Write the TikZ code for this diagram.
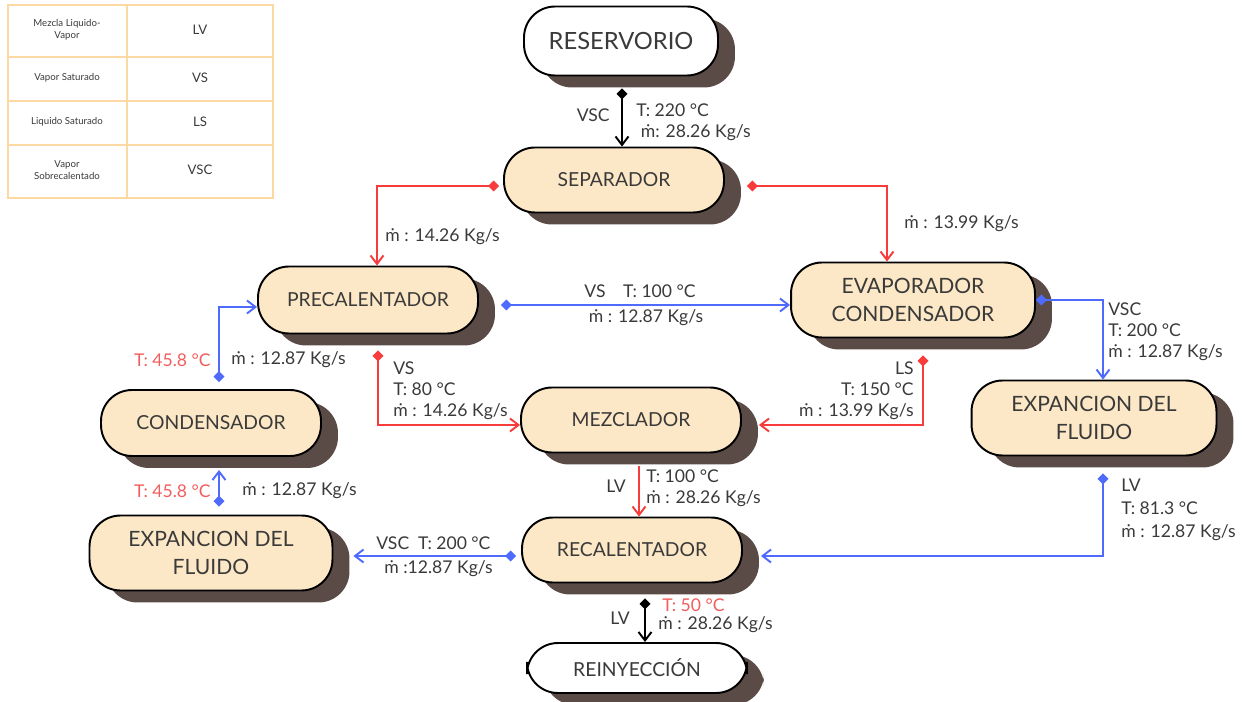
\documentclass[tikz,border=0pt]{standalone}
\usepackage{fontspec}
\setmainfont{Lato}
\usetikzlibrary{arrows.meta,calc,positioning,shadows}
\definecolor{peach}{HTML}{FCE8C6}
\definecolor{shadowbrown}{HTML}{5B4B47}
\definecolor{txtgray}{HTML}{3A3A3A}
\definecolor{flowred}{HTML}{F83B3B}
\definecolor{flowblue}{HTML}{4F6BFD}
\definecolor{redtxt}{HTML}{F25E5E}
\definecolor{tabline}{HTML}{FCD8A2}
\tikzset{box/.style={draw=black,line width=1.1pt,fill=peach,rounded corners=0.62cm,
    minimum width=4.4cm,minimum height=1.3cm,align=center,inner sep=2pt,text=txtgray,
    font=\fontsize{11}{15}\selectfont,
    drop shadow={shadow xshift=0.34cm,shadow yshift=-0.24cm,fill=shadowbrown,opacity=1}},
  bigbox/.style={box,minimum width=4.88cm,minimum height=1.5cm,font=\fontsize{12}{16}\selectfont},
  endbox/.style={box,fill=white},
  lbl/.style={font=\fontsize{10}{12}\selectfont,text=txtgray,inner sep=0pt,align=left},
  hot/.style={lbl,text=redtxt},
  tabtxt/.style={font=\fontsize{5.5}{7}\selectfont,text=txtgray,align=center},
  flow/.style={line width=1.1pt,arrows={Diamond[length=2.2mm,width=2.2mm]-Straight Barb[length=1.7mm,width=2.6mm]}},
  flowr/.style={flow,draw=flowred},
  flowb/.style={flow,draw=flowblue},
  flowk/.style={flow,draw=black}}
\begin{document}
\begin{tikzpicture}[x=0.02cm,y=-0.02cm]
\useasboundingbox (0,0) rectangle (1244,702);
% tabla de estados
\draw[tabline,line width=1.7pt] (8,5) rectangle (273,198);
\draw[tabline,line width=1.7pt] (127,5) -- (127,198) (8,57) -- (273,57) (8,101) -- (273,101) (8,145) -- (273,145);
\node[tabtxt] (t1) at (67,30) {Mezcla Liquido-\\Vapor};
\node[tabtxt] (t2) at (67,78) {Vapor Saturado};
\node[tabtxt] (t3) at (67,122) {Liquido Saturado};
\node[tabtxt] (t4) at (67,170) {Vapor\\Sobrecalentado};
\node[tabtxt,font=\fontsize{7.5}{9}\selectfont] (s1) at (200,30) {LV};
\node[tabtxt,font=\fontsize{7.5}{9}\selectfont] (s2) at (200,78) {VS};
\node[tabtxt,font=\fontsize{7.5}{9}\selectfont] (s3) at (200,122) {LS};
\node[tabtxt,font=\fontsize{7.5}{9}\selectfont] (s4) at (200,170) {VSC};
% equipos
\node[endbox,minimum width=3.88cm,minimum height=1.38cm,font=\fontsize{13.5}{17}\selectfont] (res) at (621,41) {RESERVORIO};
\node[box] (sep) at (614,180) {SEPARADOR};
\node[box,minimum height=1.34cm] (prec) at (368,300) {PRECALENTADOR};
\node[bigbox] (evap) at (913,300) {EVAPORADOR\\CONDENSADOR};
\node[box,minimum height=1.32cm] (cond) at (211,423) {CONDENSADOR};
\node[box] (mez) at (631,420) {MEZCLADOR};
\node[bigbox,minimum width=4.9cm] (expr) at (1094,418) {EXPANCION DEL\\FLUIDO};
\node[bigbox,minimum width=4.86cm] (expl) at (211,553) {EXPANCION DEL\\FLUIDO};
\node[box] (rec) at (632,550) {RECALENTADOR};
\node[endbox,minimum height=1.0cm] (rein) at (637,668) {REINYECCIÓN};
% conexiones
\draw[flowk] ($(res.south)+(1,12)$) -- ($(res.south |- sep.north)+(1,0)$);
\draw[flowr] ($(sep.west)+(-4,6)$) -| ($(prec.north)+(9,0)$);
\draw[flowr] ($(sep.east)+(22,6)$) -| ($(evap.north)+(-26,0)$);
\draw[flowb] ($(prec.east)+(22,5)$) -- ($(evap.west)+(0,5)$);
\draw[flowb] ($(cond.north)+(8,-7)$) |- ($(prec.west)+(0,7)$);
\draw[flowr] ($(prec.south)+(10,16)$) |- ($(mez.west)+(0,5)$);
\draw[flowr] ($(evap.south)+(10,17)$) |- ($(mez.east)+(17,5)$);
\draw[flowb] (evap.east) -| ($(expr.north)+(9,0)$);
\draw[flowb] ($(expr.south)+(9,17)$) |- ($(rec.east)+(18,6)$);
\draw[flowr,arrows={-Straight Barb[length=1.7mm,width=2.6mm]}] ($(mez.south)+(8,13)$) -- ($(rec.north)+(7,0)$);
\draw[flowb] ($(rec.west)+(-5,6)$) -- ($(expl.east)+(20,3)$);
\draw[flowb] ($(expl.north)+(8,-8)$) -- ($(cond.south)+(8,13)$);
\draw[flowk] ($(rec.south)+(13,15)$) -- ($(rein.north)+(8,0)$);
% etiquetas
\node[lbl,anchor=east] (l1) at (610,115) {VSC};
\node[lbl,anchor=north west] (l2) at (636,103) {T: 220 °C\\\ ṁ: 28.26 Kg/s};
\node[lbl,anchor=west] (l3) at (385,237) {ṁ : 14.26 Kg/s};
\node[lbl,anchor=west] (l4) at (904,224) {ṁ : 13.99 Kg/s};
\node[lbl] (l5) at (640,291) {VS\quad T: 100 °C};
\node[lbl] (l5b) at (646,318) {ṁ : 12.87 Kg/s};
\node[hot,anchor=east] (l6) at (211,360) {T: 45.8 °C};
\node[lbl,anchor=west] (l6b) at (231,360) {ṁ : 12.87 Kg/s};
\node[lbl,anchor=north west] (l7) at (393,361) {VS\\T: 80 °C\\ṁ : 14.26 Kg/s};
\node[lbl,anchor=north east,align=right] (l8) at (914,361) {LS\\T: 150 °C\\ṁ : 13.99 Kg/s};
\node[lbl,anchor=north west] (l9) at (1108,302) {VSC\\T: 200 °C\\ṁ : 12.87 Kg/s};
\node[lbl,anchor=north west,font=\fontsize{10}{13}\selectfont] (l10) at (1121,479) {LV\\T: 81.3 °C\\ṁ : 12.87 Kg/s};
\node[lbl,anchor=east] (l11) at (626,486) {LV};
\node[lbl,anchor=north west] (l11b) at (646,469) {T: 100 °C\\ṁ : 28.26 Kg/s};
\node[lbl,anchor=west] (l12) at (376,543) {VSC\enspace T: 200 °C};
\node[lbl,anchor=west] (l12b) at (384,569) {ṁ :12.87 Kg/s};
\node[hot,anchor=east] (l13) at (211,491) {T: 45.8 °C};
\node[lbl,anchor=west] (l13b) at (242,491) {ṁ : 12.87 Kg/s};
\node[lbl,anchor=east] (l14) at (630,618) {LV};
\node[hot,anchor=west] (l14b) at (662,605) {T: 50 °C};
\node[lbl,anchor=west] (l14c) at (658,625) {ṁ : 28.26 Kg/s};
\end{tikzpicture}
\end{document}
